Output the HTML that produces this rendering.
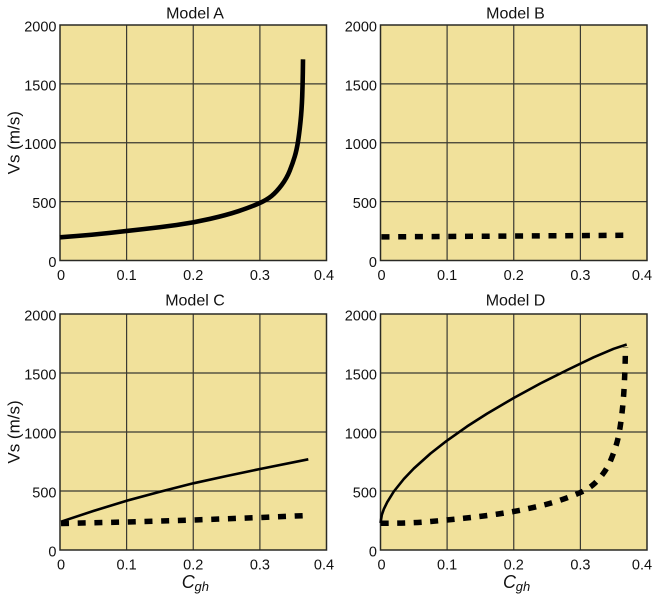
<!DOCTYPE html>
<html>
<head>
<meta charset="utf-8">
<style>
html,body{margin:0;padding:0;background:#fff;}
svg{display:block;}
text{font-family:"Liberation Sans",Arial,sans-serif;fill:#111;}
</style>
</head>
<body>
<svg width="658" height="600" viewBox="0 0 658 600" xmlns="http://www.w3.org/2000/svg">
  <!-- Panel backgrounds -->
  <g fill="#f1e19b" stroke="none">
    <rect x="60" y="25" width="266.5" height="235.5"/>
    <rect x="380.5" y="25" width="266.5" height="235.5"/>
    <rect x="60" y="314" width="266.5" height="236"/>
    <rect x="380.5" y="314" width="266.5" height="236"/>
  </g>
  <!-- Grid lines -->
  <g stroke="#3b3a32" stroke-width="1.2" fill="none">
    <path d="M126.6,25V260.5M193.25,25V260.5M259.9,25V260.5M60,83.9H326.5M60,142.75H326.5M60,201.6H326.5"/>
    <path d="M447.1,25V260.5M513.75,25V260.5M580.4,25V260.5M380.5,83.9H647M380.5,142.75H647M380.5,201.6H647"/>
    <path d="M126.6,314V550M193.25,314V550M259.9,314V550M60,373H326.5M60,432H326.5M60,491H326.5"/>
    <path d="M447.1,314V550M513.75,314V550M580.4,314V550M380.5,373H647M380.5,432H647M380.5,491H647"/>
  </g>
  <!-- Borders -->
  <g stroke="#2a2a25" stroke-width="1.5" fill="none">
    <rect x="60" y="25" width="266.5" height="235.5"/>
    <rect x="380.5" y="25" width="266.5" height="235.5"/>
    <rect x="60" y="314" width="266.5" height="236"/>
    <rect x="380.5" y="314" width="266.5" height="236"/>
  </g>

  <!-- Titles -->
  <g font-size="16" text-anchor="middle">
    <text x="195" y="18.3">Model A</text>
    <text x="515.5" y="18.3">Model B</text>
    <text x="195" y="305.5">Model C</text>
    <text x="515.5" y="305.5">Model D</text>
  </g>

  <!-- Y tick labels -->
  <g font-size="14.5" text-anchor="end">
    <text x="56.5" y="31.5">2000</text>
    <text x="56.5" y="90.4">1500</text>
    <text x="56.5" y="149.2">1000</text>
    <text x="56.5" y="208.1">500</text>
    <text x="56.5" y="267">0</text>

    <text x="377" y="31.5">2000</text>
    <text x="377" y="90.4">1500</text>
    <text x="377" y="149.2">1000</text>
    <text x="377" y="208.1">500</text>
    <text x="377" y="267">0</text>

    <text x="56.5" y="320.5">2000</text>
    <text x="56.5" y="379.5">1500</text>
    <text x="56.5" y="438.5">1000</text>
    <text x="56.5" y="497.5">500</text>
    <text x="56.5" y="556.5">0</text>

    <text x="377" y="320.5">2000</text>
    <text x="377" y="379.5">1500</text>
    <text x="377" y="438.5">1000</text>
    <text x="377" y="497.5">500</text>
    <text x="377" y="556.5">0</text>
  </g>

  <!-- X tick labels -->
  <g font-size="14.5" text-anchor="middle">
    <text x="61" y="280">0</text>
    <text x="126.6" y="280">0.1</text>
    <text x="193.25" y="280">0.2</text>
    <text x="259.9" y="280">0.3</text>
    <text x="324" y="280">0.4</text>

    <text x="381.5" y="280">0</text>
    <text x="447.1" y="280">0.1</text>
    <text x="513.75" y="280">0.2</text>
    <text x="580.4" y="280">0.3</text>
    <text x="642" y="280">0.4</text>

    <text x="61" y="569.3">0</text>
    <text x="126.6" y="569.3">0.1</text>
    <text x="193.25" y="569.3">0.2</text>
    <text x="259.9" y="569.3">0.3</text>
    <text x="324" y="569.3">0.4</text>

    <text x="381.5" y="569.3">0</text>
    <text x="447.1" y="569.3">0.1</text>
    <text x="513.75" y="569.3">0.2</text>
    <text x="580.4" y="569.3">0.3</text>
    <text x="642" y="569.3">0.4</text>
  </g>

  <!-- Y axis titles -->
  <g font-size="17" text-anchor="middle">
    <text transform="translate(19.5,142.75) rotate(-90)">Vs (m/s)</text>
    <text transform="translate(19.5,432) rotate(-90)">Vs (m/s)</text>
  </g>

  <!-- X axis titles -->
  <g font-style="italic">
    <text x="181.7" y="588" font-size="18">C</text>
    <text x="194.5" y="591" font-size="13">gh</text>
    <text x="503" y="588" font-size="18">C</text>
    <text x="515.8" y="591" font-size="13">gh</text>
  </g>

  <!-- Model A curve -->
  <path fill="none" stroke="#000" stroke-width="4.6" stroke-linejoin="round" stroke-linecap="butt"
    d="M60,237.3 L76.65,236 Q93.3,234.7 110,232.85 Q126.7,231 143.35,229.15 Q160,227.3 176.65,225 Q193.3,222.7 210,218.85 Q226.7,215 238.35,211.15 Q250,207.3 258.35,203.65 Q266.7,200 271.7,195.85 Q276.7,191.7 281.7,185 Q286.7,178.3 289.7,170.8 Q292.7,163.3 294.7,156.65 Q296.7,150 298,141.65 Q299.3,133.3 300.5,121.65 Q301.7,110 302.2,96.65 Q302.7,83.3 302.85,71.3 L303,59.3"/>

  <!-- Model B dashed -->
  <path fill="none" stroke="#000" stroke-width="5.5" stroke-dasharray="8 8.7"
    d="M381.5,236.9 L625,235.3"/>

  <!-- Model C solid -->
  <path fill="none" stroke="#000" stroke-width="2.6" stroke-linejoin="round"
    d="M61,521.7 L93.3,511 L126.7,500.7 L160,491.7 L193.3,483.3 L226.7,476 L260,469 L308.3,459.3"/>
  <!-- Model C dashed -->
  <path fill="none" stroke="#000" stroke-width="5.5" stroke-dasharray="8 8.7"
    d="M61,523.5 L126.7,522 L193.3,520 L260,517.5 L303.3,515.7"/>

  <!-- Model D solid -->
  <path fill="none" stroke="#000" stroke-width="2.6" stroke-linejoin="round"
    d="M380.5,522.9 L381.8,515 L383.8,509.2 L387.2,502.2 L393.8,491.5 L403.8,479 L413.8,468.5 L430.5,453.5 L447.1,440.5 L467.1,426.4 L487.1,413.6 L513.7,398 L540.3,383.5 L567,370.1 L593.6,357.3 L613.6,348.8 L626.7,344.5"/>
  <!-- Model D dashed -->
  <path fill="none" stroke="#000" stroke-width="5.5" stroke-dasharray="8 8.5" stroke-linejoin="round"
    d="M380.7,523.3 L397.25,523.15 Q413.8,523 430.5,521.5 Q447.2,520 463.85,518.25 Q480.5,516.5 497.25,514.1 Q514,511.7 530.6,508.1 Q547.2,504.5 558.85,500.65 Q570.5,496.8 578.85,493.15 Q587.2,489.5 592.3,485.35 Q597.4,481.2 602.5,474.5 Q607.6,467.8 610.7,460.3 Q613.8,452.8 615.9,446.15 Q618,439.5 619.45,431.15 Q620.9,422.8 622.2,411.15 Q623.5,399.5 624.2,386.15 Q624.9,372.8 625.2,360.9 L625.5,347"/>
</svg>
</body>
</html>
